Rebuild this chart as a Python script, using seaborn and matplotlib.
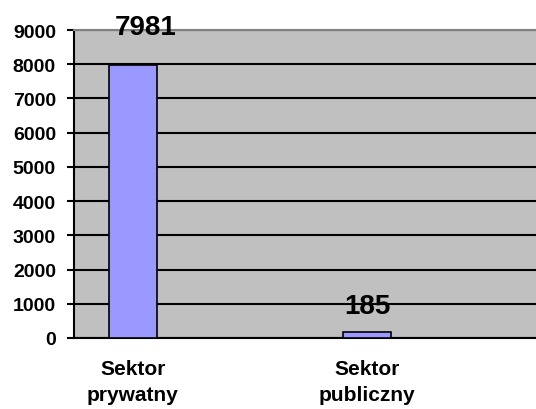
import numpy as np
import pandas as pd
import matplotlib
matplotlib.use("Agg")
import matplotlib.pyplot as plt
import seaborn as sns

# Employment by sector
sectors = ["Sektor\nprywatny", "Sektor\npubliczny"]
employment = [7981, 185]
# category slots on the x axis (the empty ones hold no bar)
slots = ["Sektor\nprywatny", "empty_a", "Sektor\npubliczny", "empty_b"]
y_ticks = [0, 1000, 2000, 3000, 4000, 5000, 6000, 7000, 8000, 9000]

sns.set_theme(style="white")
plt.rcParams["font.family"] = ["Liberation Sans", "DejaVu Sans"]
plt.rcParams["font.weight"] = "bold"
plt.rcParams["text.color"] = "black"
plt.rcParams["xtick.color"] = "black"
plt.rcParams["ytick.color"] = "black"

df = pd.DataFrame({"sektor": sectors, "liczba": employment})

fig = plt.figure(figsize=(5.36, 4.10), dpi=100)
ax = fig.add_axes([74 / 536, 71 / 410, 469 / 536, 308 / 410])
ax.set_facecolor("#C0C0C0")

sns.barplot(data=df, x="sektor", y="liczba", order=slots, width=0.41,
            color="#9999FF", saturation=1, edgecolor="black", linewidth=1.2,
            ax=ax, zorder=3)

ax.set_xlim(-0.5, len(slots) - 0.5)
ax.set_ylim(y_ticks[0], y_ticks[-1])
ax.set_yticks(y_ticks)
ax.set_yticklabels([str(t) for t in y_ticks], fontsize=14, fontweight="bold",
                   color="black")

# horizontal gridlines
ax.yaxis.grid(True, color="black", linewidth=1.5, zorder=1)
ax.set_axisbelow(True)

# category labels at centres, tick marks at category boundaries
ax.set_xticks(range(len(slots)))
ax.set_xticklabels([s if s in sectors else "" for s in slots],
                   fontsize=15, fontweight="bold", linespacing=1.45,
                   color="black")
ax.set_xticks(np.arange(-0.5, len(slots), 1.0), minor=True)
ax.tick_params(axis="x", which="major", length=0, pad=15)
ax.tick_params(axis="x", which="minor", length=5, width=1.5, color="black",
               direction="out")
ax.tick_params(axis="y", length=5, width=1.5, color="black", direction="out",
               pad=8, left=True)

for side in ["left", "bottom"]:
    ax.spines[side].set_color("black")
    ax.spines[side].set_linewidth(1.5)
ax.spines["top"].set_color("#808080")
ax.spines["top"].set_linewidth(1.5)
ax.spines["right"].set_visible(False)

ax.set_xlabel("")
ax.set_ylabel("")

# value labels above the bars (offsets in points)
offsets = [(9, 18), (0, 9)]
for bar, val, off in zip([p for p in ax.patches if p.get_height() > 0], employment, offsets):
    ax.annotate(f"{val}", (bar.get_x() + bar.get_width() / 2, val),
                xytext=off, textcoords="offset points",
                ha="center", va="bottom", fontsize=20, fontweight="bold",
                color="black", zorder=5, annotation_clip=False)

fig.savefig("out.png", dpi=100)
